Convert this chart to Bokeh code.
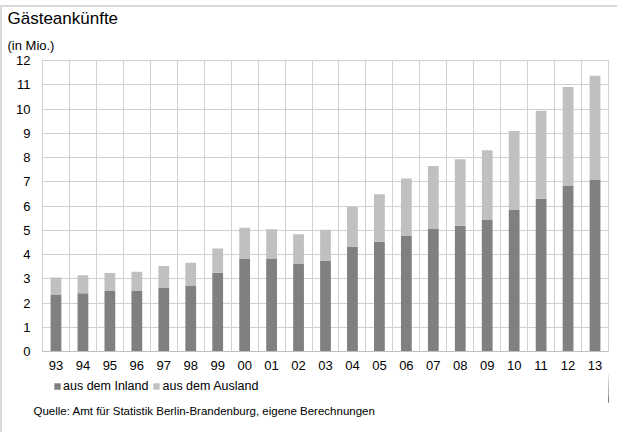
from bokeh.plotting import figure
from bokeh.layouts import column
from bokeh.models import (Range1d, FixedTicker, Legend, LegendItem, Title,
                          ColumnDataSource)
from bokeh.embed import file_html
from bokeh.resources import INLINE

# ---- data (millions of guest arrivals) ----
years = ["93", "94", "95", "96", "97", "98", "99", "00", "01", "02", "03",
         "04", "05", "06", "07", "08", "09", "10", "11", "12", "13"]
inland = [2.33, 2.40, 2.50, 2.50, 2.62, 2.72, 3.25, 3.84, 3.84, 3.61, 3.73,
          4.31, 4.53, 4.76, 5.05, 5.19, 5.42, 5.83, 6.30, 6.82, 7.09]
ausland = [0.72, 0.74, 0.74, 0.79, 0.91, 0.94, 1.00, 1.26, 1.20, 1.22, 1.29,
           1.66, 1.95, 2.37, 2.60, 2.74, 2.88, 3.26, 3.63, 4.09, 4.28]
y_ticks = [0, 1, 2, 3, 4, 5, 6, 7, 8, 9, 10, 11, 12]
series_labels = ["aus dem Inland", "aus dem Ausland"]
series_colors = ["#808080", "#c0c0c0"]
title_text = "Gästeankünfte"
unit_text = "(in Mio.)"
source_text = "Quelle: Amt für Statistik Berlin-Brandenburg, eigene Berechnungen"

FONT = "Liberation Sans"
GRID = "#d0d0d0"
FRAME_LINE = "#d9d9d9"

pos = [i + 0.5 for i in range(len(years))]
src = ColumnDataSource(dict(x=pos, inland=inland, ausland=ausland))

# ---------------- main chart ----------------
p = figure(width=617, height=372, output_backend="svg", toolbar_location=None,
           title=title_text,
           x_range=Range1d(0, len(years)), y_range=Range1d(0, 12),
           min_border_left=42, min_border_right=9, min_border_top=60,
           min_border_bottom=21)
p.background_fill_color = "white"
p.border_fill_alpha = 0
p.outline_line_color = GRID

rs = p.vbar_stack(["inland", "ausland"], x="x", width=0.4, source=src,
                  fill_color=series_colors, line_color=None)

p.xaxis.ticker = FixedTicker(ticks=pos)
p.xaxis.major_label_overrides = {pos[i]: years[i] for i in range(len(years))}
p.xaxis.major_tick_line_color = None
p.xaxis.minor_tick_line_color = None
p.xaxis.axis_line_color = "#bfbfbf"
p.xaxis.major_label_text_font = FONT
p.xaxis.major_label_text_font_size = "13px"
p.xaxis.major_label_text_color = "black"
p.xaxis.major_label_standoff = 3

p.yaxis.ticker = FixedTicker(ticks=y_ticks)
p.yaxis.axis_line_color = None
p.yaxis.major_tick_line_color = None
p.yaxis.minor_tick_line_color = None
p.yaxis.major_label_text_font = FONT
p.yaxis.major_label_text_font_size = "13px"
p.yaxis.major_label_text_color = "black"
p.yaxis.major_label_standoff = 6

p.xgrid.ticker = FixedTicker(ticks=list(range(0, len(years) + 1)))
p.xgrid.grid_line_color = GRID
p.ygrid.ticker = FixedTicker(ticks=y_ticks)
p.ygrid.grid_line_color = GRID

# main title (outermost) and unit line (nearest to the frame)
p.title.align = "left"
p.title.offset = -35
p.title.text_font = FONT
p.title.text_font_size = "17px"
p.title.text_font_style = "normal"
p.title.text_color = "black"
p.title.standoff = 0
p.add_layout(Title(text=unit_text, align="left", offset=-35,
                   text_font=FONT, text_font_size="13px",
                   text_font_style="normal", text_color="black",
                   standoff=16), "above")

# ---------------- footer: legend and source ----------------
foot = figure(width=617, height=60, output_backend="svg", toolbar_location=None,
              x_range=Range1d(-3, -2), y_range=Range1d(0, 12),
              x_axis_type=None, y_axis_type=None,
              min_border_left=42, min_border_right=9,
              min_border_top=0, min_border_bottom=30)
foot.background_fill_alpha = 0
foot.border_fill_alpha = 0
foot.outline_line_color = None
foot.xgrid.visible = False
foot.ygrid.visible = False

# legend swatches: same stacked series, kept outside the footer's visible range
swatches = foot.vbar_stack(["inland", "ausland"], x="x", width=0.4, source=src,
                           fill_color=series_colors, line_color=None)
legend = Legend(items=[LegendItem(label=series_labels[i], renderers=[swatches[i]])
                       for i in range(len(series_labels))],
                orientation="horizontal", location=(11, 9),
                glyph_width=8, glyph_height=8, label_height=8,
                label_text_font=FONT, label_text_font_size="12.5px",
                label_text_color="black",
                label_standoff=2, spacing=4, padding=0, margin=0,
                border_line_color=None, background_fill_alpha=0)
foot.add_layout(legend, "center")

foot.add_layout(Title(text=source_text, align="left", offset=-9,
                      vertical_align="top",
                      text_font=FONT, text_font_size="11.5px",
                      text_font_style="normal", text_color="black",
                      standoff=5), "below")

layout = column(p, foot, spacing=0, styles={
    "overflow": "hidden",
    "background-color": "white",
    "background-image": ("linear-gradient(%s, %s), linear-gradient(%s, %s)"
                         % (FRAME_LINE, FRAME_LINE, FRAME_LINE, FRAME_LINE)),
    "background-size": "100% 2px, 2px 100%",
    "background-position": "0 5px, 0 5px",
    "background-repeat": "no-repeat",
})

html = file_html(layout, INLINE)
html = html.replace("<head>", "<head><style>html, body { margin: 0; padding: 0; "
                    "overflow: hidden; }</style>", 1)
open("out.html", "w").write(html)
